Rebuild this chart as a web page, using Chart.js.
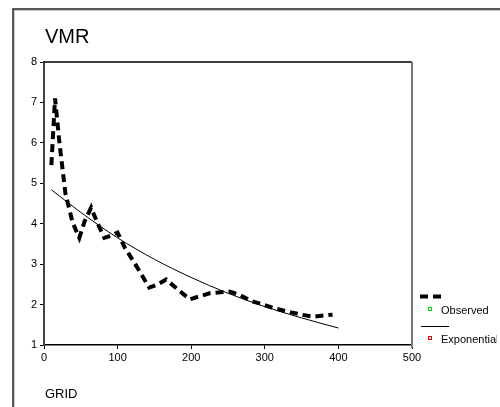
<!DOCTYPE html>
<html><head><meta charset="utf-8">
<script src="https://cdn.jsdelivr.net/npm/chart.js@4.4.0/dist/chart.umd.min.js"></script>
<style>html,body{margin:0;padding:0;background:#fff}#wrap{width:500px;height:407px}</style>
</head><body><div id="wrap"><canvas id="c" width="500" height="407"></canvas></div>
<script>
const titleText = "VMR";
const xAxisTitle = "GRID";
const seriesNames = ["Observed", "Exponential"];
const obsX = [10, 15, 21, 29, 39, 48, 55, 64, 73, 82, 90, 100, 110, 123, 143, 155, 166, 180, 198, 225, 252, 265, 280, 311, 330, 350, 365, 392];
const obsY = [5.45, 7.1, 6.0, 4.76, 4.02, 3.65, 4.05, 4.4, 4.0, 3.65, 3.7, 3.78, 3.4, 3.03, 2.42, 2.5, 2.62, 2.4, 2.13, 2.28, 2.32, 2.25, 2.1, 1.92, 1.83, 1.75, 1.7, 1.75];
const expX = [10, 50, 100, 150, 200, 250, 300, 350, 400];
const expY = [4.84, 4.28, 3.65, 3.12, 2.67, 2.28, 1.95, 1.67, 1.42];
const xTicks = [0, 100, 200, 300, 400, 500];
const yTicks = [1, 2, 3, 4, 5, 6, 7, 8];

const FONT = "'Liberation Sans', Arial, sans-serif";

const framePlugin = {
  id: 'frame',
  beforeDraw(chart) {
    const ctx = chart.ctx;
    ctx.save();
    ctx.fillStyle = '#fff';
    ctx.fillRect(0, 0, 500, 407);
    ctx.strokeStyle = '#c8c8c8';
    ctx.lineWidth = 1;
    ctx.beginPath();
    ctx.moveTo(14.5, 407); ctx.lineTo(14.5, 10.5); ctx.lineTo(500, 10.5);
    ctx.stroke();
    ctx.strokeStyle = '#222';
    ctx.lineWidth = 1.5;
    ctx.beginPath();
    ctx.moveTo(13, 407); ctx.lineTo(13, 9); ctx.lineTo(500, 9);
    ctx.stroke();
    ctx.restore();
  },
  afterDatasetsDraw(chart) {
    const ctx = chart.ctx;
    const a = chart.chartArea;
    ctx.save();
    ctx.strokeStyle = '#000';
    ctx.lineWidth = 1.5;
    ctx.beginPath();
    ctx.moveTo(a.left, a.top); ctx.lineTo(a.right, a.top);
    ctx.stroke();
    ctx.strokeStyle = '#777';
    ctx.lineWidth = 2;
    ctx.beginPath();
    ctx.moveTo(a.right, a.top); ctx.lineTo(a.right, a.bottom + 3);
    ctx.stroke();
    ctx.fillStyle = '#000';
    ctx.font = "20px " + FONT;
    ctx.textBaseline = 'alphabetic';
    ctx.textAlign = 'left';
    ctx.fillText(titleText, 45, 43);
    ctx.font = "13px " + FONT;
    ctx.fillText(xAxisTitle, 45, 398);
    // legend (clipped at the right edge like the reference)
    ctx.beginPath(); ctx.rect(0, 0, 497, 407); ctx.clip();
    ctx.lineCap = 'butt';
    ctx.strokeStyle = '#000';
    ctx.lineWidth = 4;
    ctx.setLineDash([8, 5]);
    ctx.beginPath(); ctx.moveTo(420, 296.5); ctx.lineTo(446, 296.5); ctx.stroke();
    ctx.setLineDash([]);
    ctx.lineWidth = 1;
    ctx.beginPath(); ctx.moveTo(421, 326.5); ctx.lineTo(449, 326.5); ctx.stroke();
    ctx.strokeStyle = '#00dd00';
    ctx.strokeRect(428.5, 307.5, 3, 3);
    ctx.strokeStyle = '#ee0000';
    ctx.strokeRect(428.5, 336.5, 3, 3);
    ctx.fillStyle = '#000';
    ctx.font = "11px " + FONT;
    ctx.fillText(seriesNames[0], 441, 314);
    ctx.fillText(seriesNames[1], 441, 343);
    ctx.restore();
  }
};

new Chart(document.getElementById('c'), {
  type: 'scatter',
  data: {
    datasets: [
      {
        label: seriesNames[0],
        data: obsX.map((x, i) => ({x, y: obsY[i]})),
        showLine: true,
        borderColor: '#000',
        borderWidth: 4,
        borderDash: [8, 5],
        pointRadius: 0,
        tension: 0,
        fill: false
      },
      {
        label: seriesNames[1],
        data: expX.map((x, i) => ({x, y: expY[i]})),
        showLine: true,
        borderColor: '#000',
        borderWidth: 1,
        pointRadius: 0,
        tension: 0.4,
        cubicInterpolationMode: 'monotone',
        fill: false
      }
    ]
  },
  options: {
    responsive: false,
    animation: false,
    devicePixelRatio: 1,
    layout: { padding: { left: 0, top: 62, right: 88, bottom: 0 } },
    plugins: { legend: { display: false }, tooltip: { enabled: false }, title: { display: false } },
    scales: {
      x: {
        type: 'linear', min: 0, max: 500,
        afterBuildTicks: s => { s.ticks = xTicks.map(v => ({value: v})); },
        afterFit: s => { s.height = 62; },
        grid: { display: true, drawOnChartArea: false, drawTicks: true, tickLength: 4, color: '#000' },
        border: { display: true, color: '#000', width: 1.5 },
        ticks: { color: '#000', font: { family: FONT, size: 11 }, padding: 2, maxRotation: 0 }
      },
      y: {
        type: 'linear', min: 1, max: 8,
        afterBuildTicks: s => { s.ticks = yTicks.map(v => ({value: v})); },
        afterFit: s => { s.width = 44; },
        grid: { display: true, drawOnChartArea: false, drawTicks: true, tickLength: 4, color: '#000' },
        border: { display: true, color: '#444', width: 2 },
        ticks: { color: '#000', font: { family: FONT, size: 11 }, padding: 3 }
      }
    }
  },
  plugins: [framePlugin]
});
</script>
</body></html>
